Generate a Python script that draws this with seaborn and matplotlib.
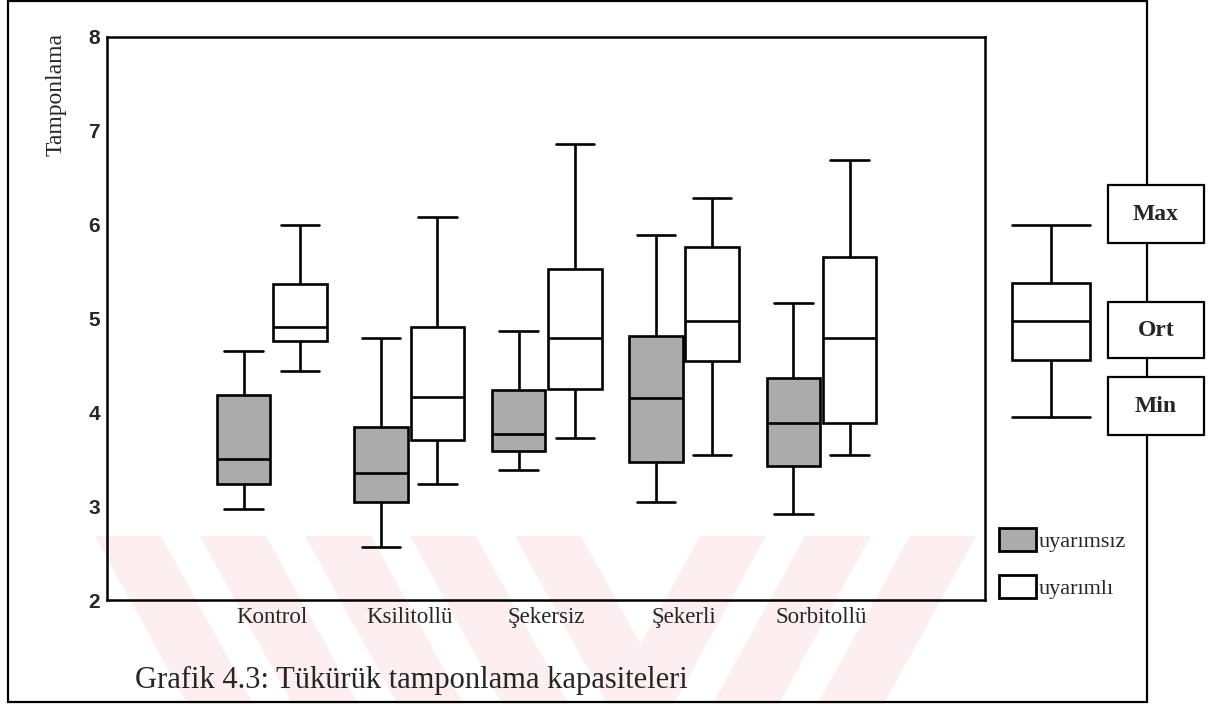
import numpy as np
import pandas as pd
import matplotlib
matplotlib.use("Agg")
import matplotlib.pyplot as plt
from matplotlib.patches import Rectangle, Polygon, Patch
import seaborn as sns

# ---------------- data (five-number summaries) -------------
gruplar = ["Kontrol", "Ksilitollü", "Şekersiz", "Şekerli", "Sorbitollü"]
durumlar = ["uyarımsız", "uyarımlı"]

uyarimsiz_min = [2.97, 2.57, 3.39, 3.04, 2.92]
uyarimsiz_q1 = [3.24, 3.04, 3.59, 3.47, 3.43]
uyarimsiz_med = [3.50, 3.35, 3.77, 4.15, 3.89]
uyarimsiz_q3 = [4.19, 3.84, 4.24, 4.81, 4.37]
uyarimsiz_max = [4.65, 4.79, 4.87, 5.89, 5.17]

uyarimli_min = [4.44, 3.24, 3.73, 3.55, 3.54]
uyarimli_q1 = [4.76, 3.70, 4.25, 4.55, 3.89]
uyarimli_med = [4.91, 4.16, 4.79, 4.97, 4.79]
uyarimli_q3 = [5.37, 4.91, 5.53, 5.76, 5.66]
uyarimli_max = [6.00, 6.08, 6.86, 6.28, 6.69]

# example box of the key (Max / Ort / Min)
ornek = [3.95, 4.56, 4.97, 5.38, 6.00]
anahtar = ["Max", "Ort", "Min"]

y_ticks = [2, 3, 4, 5, 6, 7, 8]
baslik = "Grafik 4.3: Tükürük tamponlama kapasiteleri"
y_etiket = "Tamponlama"

# ---------------- build long table ----------------------------------------------
rows = []
series = {
    "uyarımsız": [uyarimsiz_min, uyarimsiz_q1, uyarimsiz_med, uyarimsiz_q3, uyarimsiz_max],
    "uyarımlı": [uyarimli_min, uyarimli_q1, uyarimli_med, uyarimli_q3, uyarimli_max],
}
for durum, stats in series.items():
    for i, g in enumerate(gruplar):
        for s in stats:
            rows.append({"grup": g, "durum": durum, "deger": s[i]})
df = pd.DataFrame(rows)

GRAY = "#ababab"
palette = {"uyarımsız": GRAY, "uyarımlı": "white"}
SERIF = ["Liberation Serif", "DejaVu Serif"]
SANS = ["Liberation Sans", "DejaVu Sans"]

sns.set_theme(style="white")
plt.rcParams["font.family"] = SERIF

W, H = 1211, 704
fig = plt.figure(figsize=(W / 100, H / 100), dpi=100)
fig.patch.set_facecolor("white")


def fx(px):
    return px / W


def fy(py):
    return 1 - py / H


# ---------------- faint watermark stripes ---------------------------------------
wm_col = "#fdeef1"
y0, y1 = 536, 704
shift = 0.55 * (y1 - y0)
bw = 66
for t in [95, 200, 305, 410, 515]:
    pts = [(t, y0), (t + bw, y0), (t + bw + shift, y1), (t + shift, y1)]
    fig.patches.append(Polygon([(fx(a), fy(b)) for a, b in pts], closed=True,
                               transform=fig.transFigure, facecolor=wm_col,
                               edgecolor="none", zorder=-2))
for t in [700, 805, 910]:
    pts = [(t, y0), (t + bw, y0), (t + bw - shift, y1), (t - shift, y1)]
    fig.patches.append(Polygon([(fx(a), fy(b)) for a, b in pts], closed=True,
                               transform=fig.transFigure, facecolor=wm_col,
                               edgecolor="none", zorder=-2))

# ---------------- outer frame ---------------------------------------------------
fig.patches.append(Rectangle((fx(8), fy(702)), fx(1147) - fx(8), fy(1) - fy(702),
                             transform=fig.transFigure, fill=False,
                             edgecolor="black", linewidth=1.6, zorder=1))

# ---------------- main axes -----------------------------------------------------
ax = fig.add_axes([fx(107), fy(600), fx(985) - fx(107), fy(37) - fy(600)])
ax.set_facecolor("none")
sns.boxplot(data=df, x="grup", y="deger", hue="durum", order=gruplar,
            hue_order=durumlar, palette=palette, saturation=1, width=0.82,
            gap=0.05, whis=(0, 100), linewidth=1.9, linecolor="black",
            showfliers=False, legend=False, capwidths=0.28, ax=ax)
ax.set_ylim(2, 8)
ax.set_xlim(-1.2, 5.19)
ax.set_yticks(y_ticks)
ax.set_yticklabels([str(v) for v in y_ticks], fontsize=15, fontweight="bold",
                   family=SANS)
ax.set_xticks(range(len(gruplar)))
ax.set_xticklabels(gruplar, fontsize=16.5, family=SERIF)
ax.set_xlabel("")
ax.set_ylabel("")
ax.tick_params(axis="both", direction="out", length=3, width=3, color="black",
               pad=2)
for sp in ax.spines.values():
    sp.set_visible(True)
    sp.set_color("black")
    sp.set_linewidth(1.8)

fig.text(fx(56), fy(95), y_etiket, rotation=90, ha="center", va="center",
         fontsize=17, family=SERIF)
fig.text(fx(135), fy(680), baslik, ha="left", va="center", fontsize=22,
         family=SERIF)

# ---------------- legend --------------------------------------------------------
handles = [Patch(facecolor=palette[d], edgecolor="black", linewidth=2.0)
           for d in durumlar]
leg = ax.legend(handles, durumlar, loc="upper left",
                bbox_to_anchor=(fx(990), fy(519)), bbox_transform=fig.transFigure,
                frameon=False, handlelength=1.65, handleheight=1.2,
                handletextpad=0.15, labelspacing=1.05, borderaxespad=0,
                prop={"family": SERIF, "size": 16})

# ---------------- key: example box and Max/Ort/Min ------------------------------
ax2 = fig.add_axes([fx(1001), fy(600), fx(1101) - fx(1001), fy(37) - fy(600)])
ax2.set_facecolor("none")
sns.boxplot(y=ornek, ax=ax2, color="white", saturation=1, linecolor="black",
            linewidth=1.9, width=0.78, whis=(0, 100), showfliers=False,
            capwidths=0.78)
ax2.set_ylim(2, 8)
ax2.set_xlim(-0.5, 0.5)
ax2.axis("off")

boxes_px = [(185, 243), (302, 358), (377, 435)]
for lab, (top, bot) in zip(anahtar, boxes_px):
    fig.patches.append(Rectangle((fx(1108), fy(bot)), fx(1204) - fx(1108),
                                 fy(top) - fy(bot), transform=fig.transFigure,
                                 facecolor="white", edgecolor="black",
                                 linewidth=1.6, zorder=3))
    fig.text(fx(1156), fy((top + bot) / 2), lab, ha="center", va="center",
             fontsize=17, fontweight="bold", family=SERIF, zorder=4)

fig.savefig("out.png", dpi=100, facecolor="white")
